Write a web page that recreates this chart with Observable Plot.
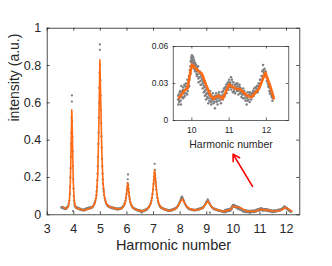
<!DOCTYPE html>
<html><head><meta charset="utf-8">
<script src="https://cdn.jsdelivr.net/npm/d3@7"></script>
<script src="https://cdn.jsdelivr.net/npm/@observablehq/plot@0.6"></script>
<style>
body{margin:0;background:#fff;}
#wrap{position:relative;width:332px;height:266px;overflow:hidden;}
#inset{position:absolute;left:140px;top:36px;}
</style></head><body><div id="wrap"><div id="main"></div><div id="inset"></div></div>
<script>
// Harmonic number ticks / intensity ticks
const xTicks = [3,4,5,6,7,8,9,10,11,12];
const yTicks = [0,0.2,0.4,0.6,0.8,1];
const insetXTicks = [10,11,12];
const insetYTicks = [0,0.03,0.06];
const xLabel = "Harmonic number";
const yLabel = "intensity (a.u.)";
const arrowData = [{x1:10.72,y1:0.152,x2:9.99,y2:0.325}];

// smoothed curve (orange), harmonics 3.6–9.5
const fitMain = [[3.60,0.040],[3.65,0.037],[3.70,0.034],[3.75,0.036],[3.80,0.048],[3.84,0.085],[3.87,0.17],[3.90,0.37],[3.925,0.563],[3.95,0.40],[3.98,0.18],[4.01,0.085],[4.05,0.048],[4.10,0.036],[4.20,0.031],[4.30,0.027],[4.40,0.025],[4.50,0.030],[4.60,0.034],[4.70,0.040],[4.78,0.058],[4.85,0.10],[4.90,0.21],[4.94,0.45],[4.98,0.83],[5.02,0.57],[5.06,0.31],[5.10,0.17],[5.15,0.10],[5.22,0.062],[5.30,0.046],[5.40,0.039],[5.50,0.036],[5.60,0.033],[5.70,0.031],[5.80,0.034],[5.90,0.050],[5.96,0.085],[6.00,0.13],[6.03,0.17],[6.07,0.12],[6.12,0.068],[6.20,0.042],[6.30,0.031],[6.40,0.025],[6.50,0.021],[6.60,0.021],[6.70,0.026],[6.80,0.036],[6.90,0.062],[6.96,0.11],[7.00,0.17],[7.04,0.238],[7.08,0.18],[7.13,0.105],[7.20,0.058],[7.30,0.038],[7.40,0.029],[7.50,0.025],[7.60,0.022],[7.70,0.025],[7.80,0.031],[7.90,0.043],[8.00,0.068],[8.08,0.085],[8.15,0.068],[8.25,0.043],[8.40,0.029],[8.55,0.025],[8.70,0.028],[8.85,0.037],[8.95,0.055],[9.04,0.073],[9.10,0.060],[9.20,0.040],[9.35,0.028],[9.50,0.022]];
// smoothed curve (orange), harmonics 9.66–12.2 (inset range)
const fitInset = [[9.66,0.0184],[9.82,0.0249],[9.88,0.026],[10.0,0.0454],[10.13,0.0414],[10.27,0.0379],[10.38,0.029],[10.49,0.0208],[10.58,0.0176],[10.71,0.0203],[10.83,0.0176],[11.0,0.0292],[11.15,0.0262],[11.3,0.0251],[11.48,0.0203],[11.6,0.0189],[11.8,0.0257],[11.97,0.0387],[12.09,0.029],[12.2,0.018]];

// measured points (gray), harmonics 3.53–9.62
const dotsMain = [[3.53,0.038],[3.55,0.042],[3.57,0.036],[3.59,0.040],[3.61,0.034],[3.63,0.038],[3.65,0.031],[3.67,0.036],[3.69,0.033],[3.71,0.030],[3.73,0.037],[3.75,0.041],[3.77,0.044],[3.79,0.048],[3.81,0.060],[3.83,0.075],[3.85,0.110],[3.86,0.150],[3.87,0.200],[3.88,0.250],[3.89,0.310],[3.90,0.380],[3.91,0.440],[3.92,0.520],[3.93,0.607],[3.93,0.640],[3.94,0.500],[3.95,0.420],[3.96,0.340],[3.97,0.260],[3.98,0.190],[3.99,0.140],[4.00,0.100],[4.01,0.075],[4.02,0.060],[4.03,0.050],[3.97,0.020],[4.05,0.044],[4.07,0.040],[4.09,0.036],[4.11,0.042],[4.13,0.034],[4.15,0.038],[4.17,0.031],[4.19,0.035],[4.21,0.029],[4.23,0.033],[4.25,0.027],[4.27,0.031],[4.29,0.025],[4.31,0.029],[4.33,0.024],[4.35,0.028],[4.37,0.022],[4.39,0.027],[4.41,0.030],[4.43,0.025],[4.45,0.033],[4.47,0.028],[4.49,0.035],[4.51,0.030],[4.53,0.037],[4.55,0.032],[4.57,0.038],[4.59,0.034],[4.61,0.039],[4.63,0.035],[4.65,0.041],[4.67,0.037],[4.69,0.043],[4.71,0.040],[4.73,0.048],[4.75,0.052],[4.77,0.058],[4.79,0.066],[4.81,0.075],[4.83,0.088],[4.85,0.105],[4.86,0.125],[4.87,0.150],[4.88,0.185],[4.89,0.220],[4.90,0.260],[4.91,0.310],[4.92,0.380],[4.93,0.440],[4.94,0.520],[4.95,0.600],[4.96,0.680],[4.97,0.760],[4.98,0.884],[4.98,0.913],[4.99,0.800],[5.00,0.720],[5.01,0.640],[5.02,0.560],[5.03,0.490],[5.04,0.420],[5.05,0.360],[5.06,0.300],[5.07,0.260],[5.08,0.220],[5.09,0.190],[5.10,0.165],[5.11,0.140],[5.12,0.125],[5.14,0.105],[5.16,0.090],[5.18,0.078],[5.20,0.068],[5.22,0.060],[5.24,0.055],[5.26,0.050],[5.28,0.046],[5.30,0.049],[5.32,0.042],[5.34,0.045],[5.36,0.039],[5.38,0.043],[5.40,0.037],[5.42,0.041],[5.44,0.035],[5.46,0.039],[5.48,0.034],[5.50,0.038],[5.52,0.032],[5.54,0.036],[5.56,0.031],[5.58,0.035],[5.60,0.030],[5.62,0.034],[5.64,0.028],[5.66,0.033],[5.68,0.029],[5.70,0.034],[5.72,0.030],[5.74,0.036],[5.76,0.032],[5.78,0.037],[5.80,0.034],[5.82,0.039],[5.84,0.042],[5.86,0.046],[5.88,0.050],[5.90,0.056],[5.92,0.064],[5.94,0.075],[5.96,0.090],[5.98,0.110],[6.00,0.135],[6.01,0.150],[6.02,0.170],[6.03,0.190],[6.04,0.216],[6.05,0.160],[6.06,0.140],[6.07,0.120],[6.08,0.100],[6.10,0.085],[6.12,0.070],[6.14,0.060],[6.16,0.052],[6.18,0.047],[6.20,0.043],[6.22,0.039],[6.24,0.036],[6.26,0.034],[6.28,0.031],[6.30,0.033],[6.32,0.028],[6.34,0.030],[6.36,0.025],[6.38,0.028],[6.40,0.023],[6.42,0.026],[6.44,0.021],[6.46,0.025],[6.48,0.019],[6.50,0.023],[6.52,0.017],[6.54,0.022],[6.56,0.012],[6.58,0.021],[6.60,0.018],[6.62,0.024],[6.64,0.020],[6.66,0.026],[6.68,0.022],[6.70,0.028],[6.72,0.025],[6.74,0.031],[6.76,0.028],[6.78,0.034],[6.80,0.037],[6.82,0.041],[6.84,0.045],[6.86,0.050],[6.88,0.056],[6.90,0.064],[6.92,0.075],[6.94,0.090],[6.96,0.110],[6.98,0.135],[7.00,0.165],[7.01,0.185],[7.02,0.205],[7.03,0.225],[7.04,0.273],[7.05,0.240],[7.06,0.215],[7.07,0.195],[7.08,0.175],[7.09,0.155],[7.10,0.135],[7.12,0.110],[7.14,0.090],[7.16,0.075],[7.18,0.064],[7.20,0.056],[7.22,0.050],[7.24,0.045],[7.26,0.041],[7.28,0.037],[7.30,0.040],[7.32,0.034],[7.34,0.036],[7.36,0.031],[7.38,0.033],[7.40,0.028],[7.42,0.031],[7.44,0.026],[7.46,0.029],[7.48,0.024],[7.50,0.027],[7.52,0.022],[7.54,0.026],[7.56,0.021],[7.58,0.025],[7.60,0.020],[7.62,0.024],[7.64,0.022],[7.66,0.027],[7.68,0.023],[7.70,0.028],[7.72,0.025],[7.74,0.030],[7.76,0.027],[7.78,0.033],[7.80,0.030],[7.82,0.036],[7.84,0.034],[7.86,0.040],[7.88,0.038],[7.90,0.045],[7.92,0.049],[7.94,0.055],[7.96,0.061],[7.98,0.068],[8.00,0.075],[8.02,0.082],[8.04,0.090],[8.06,0.097],[8.08,0.094],[8.10,0.088],[8.12,0.080],[8.14,0.074],[8.16,0.067],[8.18,0.060],[8.20,0.054],[8.22,0.049],[8.24,0.045],[8.26,0.041],[8.28,0.038],[8.30,0.035],[8.32,0.033],[8.34,0.030],[8.36,0.032],[8.38,0.028],[8.40,0.030],[8.42,0.026],[8.44,0.029],[8.46,0.025],[8.48,0.028],[8.50,0.024],[8.52,0.027],[8.54,0.023],[8.56,0.026],[8.58,0.024],[8.60,0.028],[8.62,0.025],[8.64,0.029],[8.66,0.026],[8.68,0.031],[8.70,0.028],[8.72,0.033],[8.74,0.030],[8.76,0.035],[8.78,0.032],[8.80,0.037],[8.82,0.034],[8.84,0.039],[8.86,0.037],[8.88,0.042],[8.90,0.046],[8.92,0.051],[8.94,0.056],[8.96,0.061],[8.98,0.066],[9.00,0.071],[9.02,0.076],[9.04,0.082],[9.06,0.075],[9.08,0.068],[9.10,0.062],[9.12,0.012],[9.12,0.056],[9.14,0.051],[9.16,0.047],[9.18,0.043],[9.20,0.040],[9.22,0.037],[9.24,0.034],[9.26,0.031],[9.28,0.033],[9.30,0.029],[9.32,0.031],[9.34,0.027],[9.36,0.029],[9.38,0.025],[9.40,0.027],[9.42,0.023],[9.44,0.025],[9.46,0.021],[9.48,0.024],[9.50,0.020],[9.52,0.022],[9.54,0.018],[9.56,0.021],[9.58,0.017],[9.60,0.020],[9.62,0.016]];
// measured points (gray), harmonics 9.63–12.18 (inset range)
const dotsInset = [[9.63,0.017],[9.64,0.013],[9.65,0.021],[9.66,0.015],[9.68,0.019],[9.69,0.024],[9.70,0.016],[9.71,0.021],[9.72,0.028],[9.73,0.019],[9.75,0.024],[9.76,0.018],[9.77,0.027],[9.79,0.022],[9.80,0.029],[9.81,0.020],[9.83,0.025],[9.84,0.030],[9.85,0.022],[9.87,0.027],[9.88,0.033],[9.89,0.024],[9.91,0.030],[9.92,0.036],[9.93,0.028],[9.95,0.039],[9.96,0.044],[9.97,0.048],[9.98,0.051],[9.99,0.047],[10.00,0.053],[10.01,0.050],[10.02,0.052],[10.03,0.048],[10.04,0.051],[10.05,0.046],[10.06,0.049],[10.07,0.044],[10.08,0.047],[10.10,0.042],[10.11,0.045],[10.12,0.040],[10.14,0.043],[10.15,0.037],[10.16,0.041],[10.18,0.031],[10.19,0.039],[10.20,0.035],[10.22,0.038],[10.23,0.032],[10.25,0.036],[10.26,0.029],[10.28,0.033],[10.29,0.026],[10.31,0.030],[10.32,0.023],[10.34,0.027],[10.35,0.020],[10.37,0.025],[10.38,0.017],[10.40,0.022],[10.41,0.026],[10.43,0.018],[10.44,0.014],[10.46,0.021],[10.47,0.016],[10.49,0.024],[10.50,0.018],[10.52,0.013],[10.53,0.020],[10.55,0.016],[10.56,0.022],[10.58,0.014],[10.59,0.019],[10.62,0.010],[10.63,0.017],[10.65,0.022],[10.66,0.015],[10.68,0.020],[10.69,0.013],[10.71,0.018],[10.73,0.023],[10.74,0.016],[10.76,0.020],[10.78,0.014],[10.79,0.019],[10.81,0.023],[10.83,0.017],[10.85,0.021],[10.86,0.026],[10.88,0.020],[10.90,0.025],[10.92,0.029],[10.93,0.022],[10.95,0.027],[10.97,0.031],[10.98,0.025],[11.00,0.033],[11.02,0.027],[11.03,0.031],[11.05,0.035],[11.06,0.025],[11.08,0.029],[11.10,0.023],[11.11,0.031],[11.13,0.026],[11.15,0.029],[11.16,0.022],[11.18,0.027],[11.20,0.030],[11.21,0.024],[11.23,0.028],[11.25,0.021],[11.26,0.026],[11.28,0.029],[11.30,0.022],[11.31,0.026],[11.33,0.019],[11.35,0.024],[11.37,0.021],[11.38,0.026],[11.40,0.018],[11.42,0.022],[11.44,0.016],[11.45,0.021],[11.47,0.013],[11.48,0.019],[11.50,0.023],[11.52,0.017],[11.54,0.021],[11.55,0.015],[11.57,0.020],[11.59,0.017],[11.60,0.022],[11.62,0.019],[11.64,0.024],[11.66,0.020],[11.67,0.026],[11.69,0.022],[11.71,0.027],[11.73,0.023],[11.75,0.028],[11.77,0.025],[11.79,0.030],[11.81,0.027],[11.83,0.033],[11.85,0.030],[11.87,0.036],[11.89,0.040],[11.90,0.034],[11.91,0.045],[11.93,0.039],[11.95,0.042],[11.97,0.036],[11.99,0.038],[12.01,0.032],[12.03,0.034],[12.05,0.028],[12.06,0.030],[12.08,0.024],[12.10,0.026],[12.12,0.021],[12.14,0.019],[12.16,0.016],[12.18,0.018],
[9.635,0.020],[9.655,0.017],[9.675,0.023],[9.705,0.013],[9.735,0.023],[9.765,0.025],[9.795,0.019],[9.825,0.028],[9.855,0.026],[9.875,0.021],[9.905,0.027],[9.935,0.033],[9.945,0.041],[9.965,0.038],[9.985,0.049],[10.015,0.047],[10.035,0.044],[10.055,0.042],[10.085,0.040],[10.095,0.046],[10.125,0.038],[10.135,0.036],[10.165,0.044],[10.175,0.034],[10.205,0.040],[10.235,0.029],[10.265,0.034],[10.295,0.031],[10.325,0.028],[10.355,0.024],[10.385,0.021],[10.415,0.019],[10.445,0.023],[10.475,0.020],[10.505,0.015],[10.535,0.017],[10.565,0.019],[10.595,0.015],[10.625,0.020],[10.655,0.018],[10.685,0.016],[10.715,0.021],[10.745,0.019],[10.775,0.017],[10.805,0.020],[10.835,0.024],[10.865,0.019],[10.895,0.027],[10.925,0.025],[10.955,0.030],[10.985,0.028],[11.015,0.030],[11.045,0.027],[11.075,0.033],[11.105,0.027],[11.135,0.024],[11.165,0.029],[11.195,0.026],[11.225,0.030],[11.255,0.024],[11.285,0.027],[11.315,0.023],[11.345,0.021],[11.375,0.018],[11.405,0.024],[11.435,0.020],[11.465,0.018],[11.495,0.016],[11.525,0.020],[11.555,0.023],[11.585,0.019],[11.615,0.021],[11.645,0.022],[11.675,0.023],[11.705,0.024],[11.735,0.026],[11.765,0.023],[11.795,0.028],[11.825,0.030],[11.855,0.033],[11.885,0.036],[11.915,0.041],[11.945,0.038],[11.975,0.040],[12.005,0.035],[12.035,0.030],[12.065,0.027],[12.095,0.022],[12.125,0.024],[12.155,0.020]];

const ORANGE = "#ff6a13", GRAY = "#808080", AX = "#262626";
const FONT = "'Liberation Sans', Arial, Helvetica, sans-serif";
const px = d => d[0], py = d => d[1];

// ---------- main chart ----------
const W = 332, H = 266, mL = 46.7, mR = 32.7, mT = 27.7, mB = 51.7;
const iW = W - mL - mR, iH = H - mT - mB;
const main = Plot.plot({
  width: W, height: H, marginLeft: mL, marginRight: mR, marginTop: mT, marginBottom: mB,
  style: {fontFamily: FONT, background: "transparent", overflow: "visible"},
  x: {domain: [3, 12.5]},
  y: {domain: [0, 1]},
  marks: [
    Plot.dot(dotsMain.concat(dotsInset), {x: px, y: py, r: 1.15, fill: GRAY, stroke: "none"}),
    Plot.line(fitMain.concat(fitInset), {x: px, y: py, stroke: ORANGE, strokeWidth: 1.6}),
    Plot.frame({stroke: AX, strokeWidth: 0.8}),
    Plot.tickX(xTicks, {x: d => d, stroke: AX, strokeWidth: 0.8, insetTop: iH - 3}),
    Plot.tickX(xTicks, {x: d => d, stroke: AX, strokeWidth: 0.8, insetBottom: iH - 3}),
    Plot.tickY(yTicks, {y: d => d, stroke: AX, strokeWidth: 0.8, insetRight: iW - 3}),
    Plot.tickY(yTicks, {y: d => d, stroke: AX, strokeWidth: 0.8, insetLeft: iW - 3}),
    Plot.axisX({ticks: xTicks, tickSize: 0, tickPadding: 9, fontSize: 12.5, fill: AX, label: null, tickFormat: d => String(d)}),
    Plot.axisY({ticks: yTicks, tickSize: 0, tickPadding: 6, fontSize: 12.5, fill: AX, label: null, tickFormat: d => String(d)}),
    Plot.text([xLabel], {text: d => d, frameAnchor: "bottom", dy: 35, fontSize: 14.5, fill: AX}),
    Plot.text([yLabel], {text: d => d, frameAnchor: "left", dx: -33, rotate: -90, fontSize: 14, fill: AX}),
    Plot.arrow(arrowData, {x1: "x1", y1: "y1", x2: "x2", y2: "y2", stroke: "#ff0000", strokeWidth: 1.6, headLength: 7, bend: 0})
  ]
});
document.getElementById("main").appendChild(main);

// ---------- inset ----------
const IW = 155, IH = 120, imL = 32.7, imR = 6.7, imT = 10, imB = 36;
const iiW = IW - imL - imR, iiH = IH - imT - imB;
const inset = Plot.plot({
  width: IW, height: IH, marginLeft: imL, marginRight: imR, marginTop: imT, marginBottom: imB,
  style: {fontFamily: FONT, background: "transparent", overflow: "visible"},
  x: {domain: [9.5, 12.6]},
  y: {domain: [0, 0.06]},
  marks: [
    Plot.frame({fill: "white", stroke: "none"}),
    Plot.dot(dotsInset, {x: px, y: py, r: 1.25, fill: GRAY, stroke: "none"}),
    Plot.line(fitInset, {x: px, y: py, stroke: ORANGE, strokeWidth: 2.6}),
    Plot.frame({stroke: AX, strokeWidth: 0.7}),
    Plot.tickX(insetXTicks, {x: d => d, stroke: AX, strokeWidth: 0.7, insetTop: iiH - 2.5}),
    Plot.tickX(insetXTicks, {x: d => d, stroke: AX, strokeWidth: 0.7, insetBottom: iiH - 2.5}),
    Plot.tickY(insetYTicks, {y: d => d, stroke: AX, strokeWidth: 0.7, insetRight: iiW - 2.5}),
    Plot.tickY(insetYTicks, {y: d => d, stroke: AX, strokeWidth: 0.7, insetLeft: iiW - 2.5}),
    Plot.axisX({ticks: insetXTicks, tickSize: 0, tickPadding: 6, fontSize: 8.5, fill: AX, label: null, tickFormat: d => String(d)}),
    Plot.axisY({ticks: insetYTicks, tickSize: 0, tickPadding: 5, fontSize: 8.5, fill: AX, label: null, tickFormat: d => String(d)}),
    Plot.text([xLabel], {text: d => d, frameAnchor: "bottom", dy: 27, fontSize: 10.5, fill: AX})
  ]
});
document.getElementById("inset").appendChild(inset);
</script></body></html>
